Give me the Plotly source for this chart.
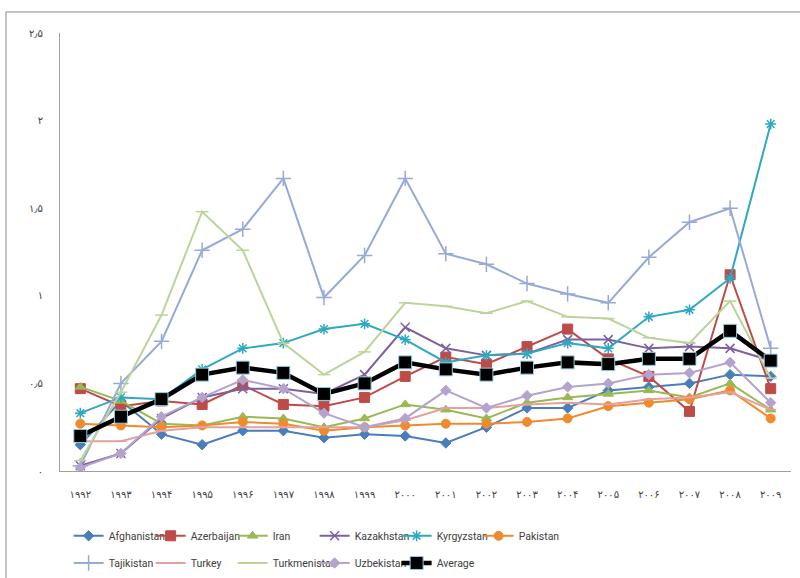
import plotly.graph_objects as go

years = [1992, 1993, 1994, 1995, 1996, 1997, 1998, 1999, 2000,
         2001, 2002, 2003, 2004, 2005, 2006, 2007, 2008, 2009]
year_labels = ["۱۹۹۲", "۱۹۹۳", "۱۹۹۴", "۱۹۹۵", "۱۹۹۶", "۱۹۹۷", "۱۹۹۸", "۱۹۹۹", "۲۰۰۰",
               "۲۰۰۱", "۲۰۰۲", "۲۰۰۳", "۲۰۰۴", "۲۰۰۵", "۲۰۰۶", "۲۰۰۷", "۲۰۰۸", "۲۰۰۹"]
y_ticks = [0, 0.5, 1, 1.5, 2, 2.5]
y_labels = ["۰", "۰٫۵", "۱", "۱٫۵", "۲", "۲٫۵"]

afghanistan = [0.15, 0.40, 0.21, 0.15, 0.23, 0.23, 0.19, 0.21, 0.20, 0.16, 0.25, 0.36, 0.36, 0.46, 0.48, 0.50, 0.55, 0.54]
azerbaijan = [0.47, 0.37, 0.40, 0.38, 0.49, 0.38, 0.37, 0.42, 0.54, 0.65, 0.61, 0.71, 0.81, 0.64, 0.54, 0.34, 1.12, 0.47]
iran = [0.48, 0.40, 0.27, 0.26, 0.31, 0.30, 0.25, 0.30, 0.38, 0.35, 0.30, 0.39, 0.42, 0.44, 0.46, 0.42, 0.50, 0.35]
kazakhstan = [0.03, 0.10, 0.30, 0.42, 0.47, 0.47, 0.44, 0.55, 0.82, 0.70, 0.66, 0.67, 0.75, 0.75, 0.70, 0.71, 0.70, 0.63]
kyrgyzstan = [0.33, 0.42, 0.41, 0.58, 0.70, 0.73, 0.81, 0.84, 0.75, 0.62, 0.66, 0.67, 0.73, 0.70, 0.88, 0.92, 1.10, 1.98]
pakistan = [0.27, 0.26, 0.25, 0.26, 0.28, 0.27, 0.23, 0.25, 0.26, 0.27, 0.27, 0.28, 0.30, 0.37, 0.39, 0.41, 0.46, 0.30]
tajikistan = [0.03, 0.50, 0.74, 1.26, 1.38, 1.67, 0.99, 1.23, 1.67, 1.24, 1.18, 1.07, 1.01, 0.96, 1.22, 1.42, 1.50, 0.70]
turkey = [0.17, 0.17, 0.23, 0.25, 0.25, 0.25, 0.25, 0.25, 0.29, 0.36, 0.36, 0.38, 0.39, 0.38, 0.41, 0.42, 0.45, 0.35]
turkmenistan = [0.06, 0.45, 0.89, 1.48, 1.26, 0.73, 0.55, 0.68, 0.96, 0.94, 0.90, 0.97, 0.88, 0.87, 0.76, 0.73, 0.97, 0.53]
uzbekistan = [0.02, 0.10, 0.31, 0.42, 0.52, 0.47, 0.33, 0.25, 0.30, 0.46, 0.36, 0.43, 0.48, 0.50, 0.55, 0.56, 0.62, 0.39]
average = [0.20, 0.31, 0.41, 0.55, 0.59, 0.56, 0.44, 0.50, 0.62, 0.58, 0.55, 0.59, 0.62, 0.61, 0.64, 0.64, 0.80, 0.63]

series = [
    ("Afghanistan", afghanistan, "#4A7EBB", "diamond", 8, 2, "legend"),
    ("Azerbaijan", azerbaijan, "#BE4B48", "square", 10, 2, "legend"),
    ("Iran", iran, "#98B954", "triangle-up", 9, 2, "legend"),
    ("Kazakhstan", kazakhstan, "#7D60A0", "x-thin-open", 9, 2, "legend"),
    ("Kyrgyzstan", kyrgyzstan, "#2FA8C2", "asterisk-open", 9, 2, "legend"),
    ("Pakistan", pakistan, "#F08A2E", "circle", 9, 2, "legend"),
    ("Tajikistan", tajikistan, "#97A9D8", "cross-thin-open", 11, 2, "legend2"),
    ("Turkey", turkey, "#E3A1A0", "line-ew-open", 8, 2, "legend2"),
    ("Turkmenistan", turkmenistan, "#BCD49A", "line-ew-open", 9, 2, "legend2"),
    ("Uzbekistan", uzbekistan, "#B4A3CC", "diamond", 8, 2, "legend2"),
    ("Average", average, "#000000", "square", 13, 4.5, "legend2"),
]

fig = go.Figure()
for name, vals, color, sym, size, lw, leg in series:
    fig.add_trace(go.Scatter(
        x=years, y=vals, name=name, mode="lines+markers",
        line=dict(color=color, width=lw),
        marker=dict(symbol=sym, size=size, color=color,
                    line=dict(color=color if "open" in sym else ("#8FD0E0" if name == "Average" else color), width=1.5 if "open" in sym else 1)),
        legend=leg,
    ))

legend_font = dict(family="Roboto, Lato, sans-serif", size=10.5, color="#404040")

fig.update_layout(
    width=800, height=578,
    margin=dict(l=60, r=9, t=33, b=107, autoexpand=False),
    paper_bgcolor="white", plot_bgcolor="white",
    font=dict(family="DejaVu Sans, Lato, sans-serif", color="#404040"),
    xaxis=dict(range=[1991.5, 2009.5], tickvals=years, ticktext=year_labels,
               showgrid=False, zeroline=False, showline=True, linecolor="#A0A0A0", linewidth=1,
               ticks="", ticklabelstandoff=14, tickfont=dict(size=10, color="#404040"), fixedrange=True),
    yaxis=dict(range=[0, 2.5], tickvals=y_ticks, ticktext=y_labels,
               showgrid=False, zeroline=False, showline=True, linecolor="#A0A0A0", linewidth=1,
               ticks="", ticklabelstandoff=14, tickfont=dict(size=10, color="#404040")),
    legend=dict(orientation="h", x=0.0118, xanchor="left", y=-0.148, yanchor="middle",
                entrywidth=37, font=legend_font, bgcolor="rgba(0,0,0,0)", itemwidth=30),
    legend2=dict(orientation="h", x=0.0118, xanchor="left", y=-0.210, yanchor="middle",
                 entrywidth=37, font=legend_font, bgcolor="rgba(0,0,0,0)", itemwidth=30),
    shapes=[dict(type="rect", xref="paper", yref="paper", x0=-0.0739, x1=1.02, y0=-0.3, y1=1.048,
                 line=dict(color="#8A8A8A", width=1), fillcolor="rgba(0,0,0,0)", layer="below")],
)

fig.write_html("out.html")
